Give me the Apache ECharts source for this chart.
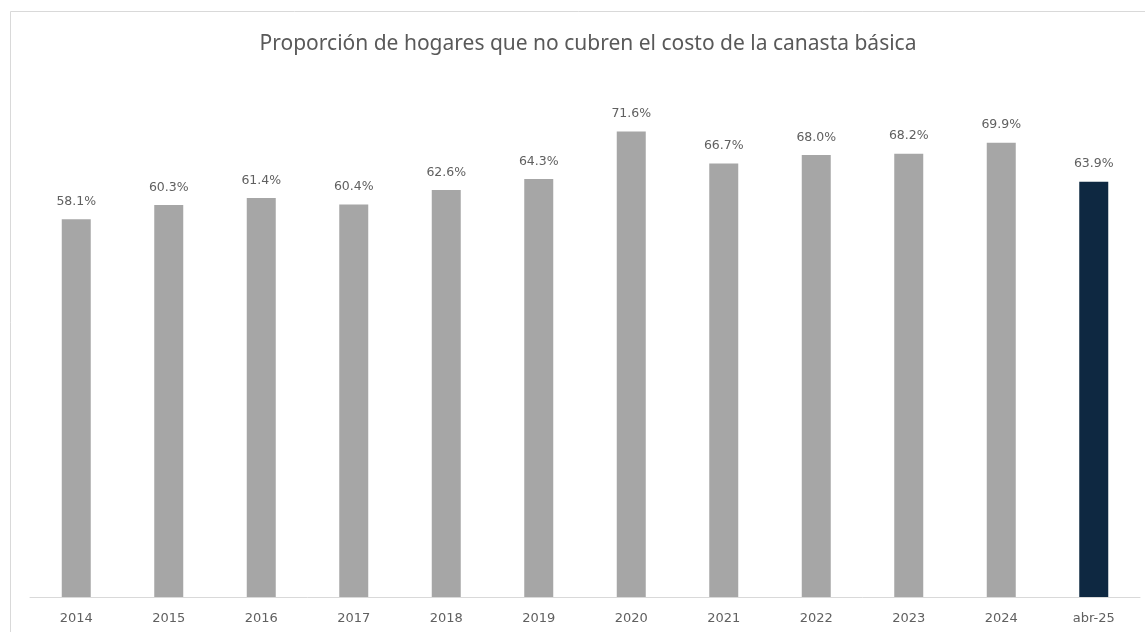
<!DOCTYPE html>
<html>
<head>
<meta charset="utf-8">
<script src="https://cdn.jsdelivr.net/npm/echarts@6/dist/echarts.min.js"></script>
<style>
  html, body { margin: 0; padding: 0; background: #ffffff; }
  #chart { width: 1145px; height: 632px; }
</style>
</head>
<body>
<div id="chart"></div>
<script>
// Household share that cannot cover the basic basket, by year
const categories = ['2014', '2015', '2016', '2017', '2018', '2019', '2020', '2021', '2022', '2023', '2024', 'abr-25'];
const values = [58.1, 60.3, 61.4, 60.4, 62.6, 64.3, 71.6, 66.7, 68.0, 68.2, 69.9, 63.9];
const highlightIndex = 11;

const chart = echarts.init(document.getElementById('chart'), null, { renderer: 'canvas' });

chart.setOption({
  animation: false,
  backgroundColor: '#ffffff',
  title: {
    text: 'Proporción de hogares que no cubren el costo de la canasta básica',
    left: 583,
    textAlign: 'center',
    top: 29,
    textStyle: { fontFamily: 'Noto Sans', fontWeight: 'normal', fontSize: 21, color: '#595959' }
  },
  graphic: [{
    type: 'rect',
    shape: { x: 10.5, y: 11.5, width: 1140, height: 640 },
    style: { fill: 'none', stroke: '#d9d9d9', lineWidth: 1 },
    silent: true
  }],
  grid: { left: 30, right: 5, top: 77, bottom: 35, containLabel: false },
  xAxis: {
    type: 'category',
    data: categories,
    axisLine: { lineStyle: { color: '#d9d9d9', width: 1 } },
    axisTick: { show: false },
    axisLabel: { color: '#606060', fontFamily: 'DejaVu Sans', fontSize: 13, margin: 15 }
  },
  yAxis: {
    type: 'value',
    min: 0,
    max: 80,
    show: false,
    splitLine: { show: false }
  },
  series: [{
    type: 'bar',
    data: values.map((v, i) => ({
      value: v,
      itemStyle: { color: i === highlightIndex ? '#0e2841' : '#a6a6a6' }
    })),
    barWidth: 29,
    label: {
      show: true,
      position: 'top',
      distance: 11,
      formatter: p => p.value.toFixed(1) + '%',
      color: '#606060',
      fontFamily: 'DejaVu Sans',
      fontSize: 12.5
    }
  }]
});
</script>
</body>
</html>
